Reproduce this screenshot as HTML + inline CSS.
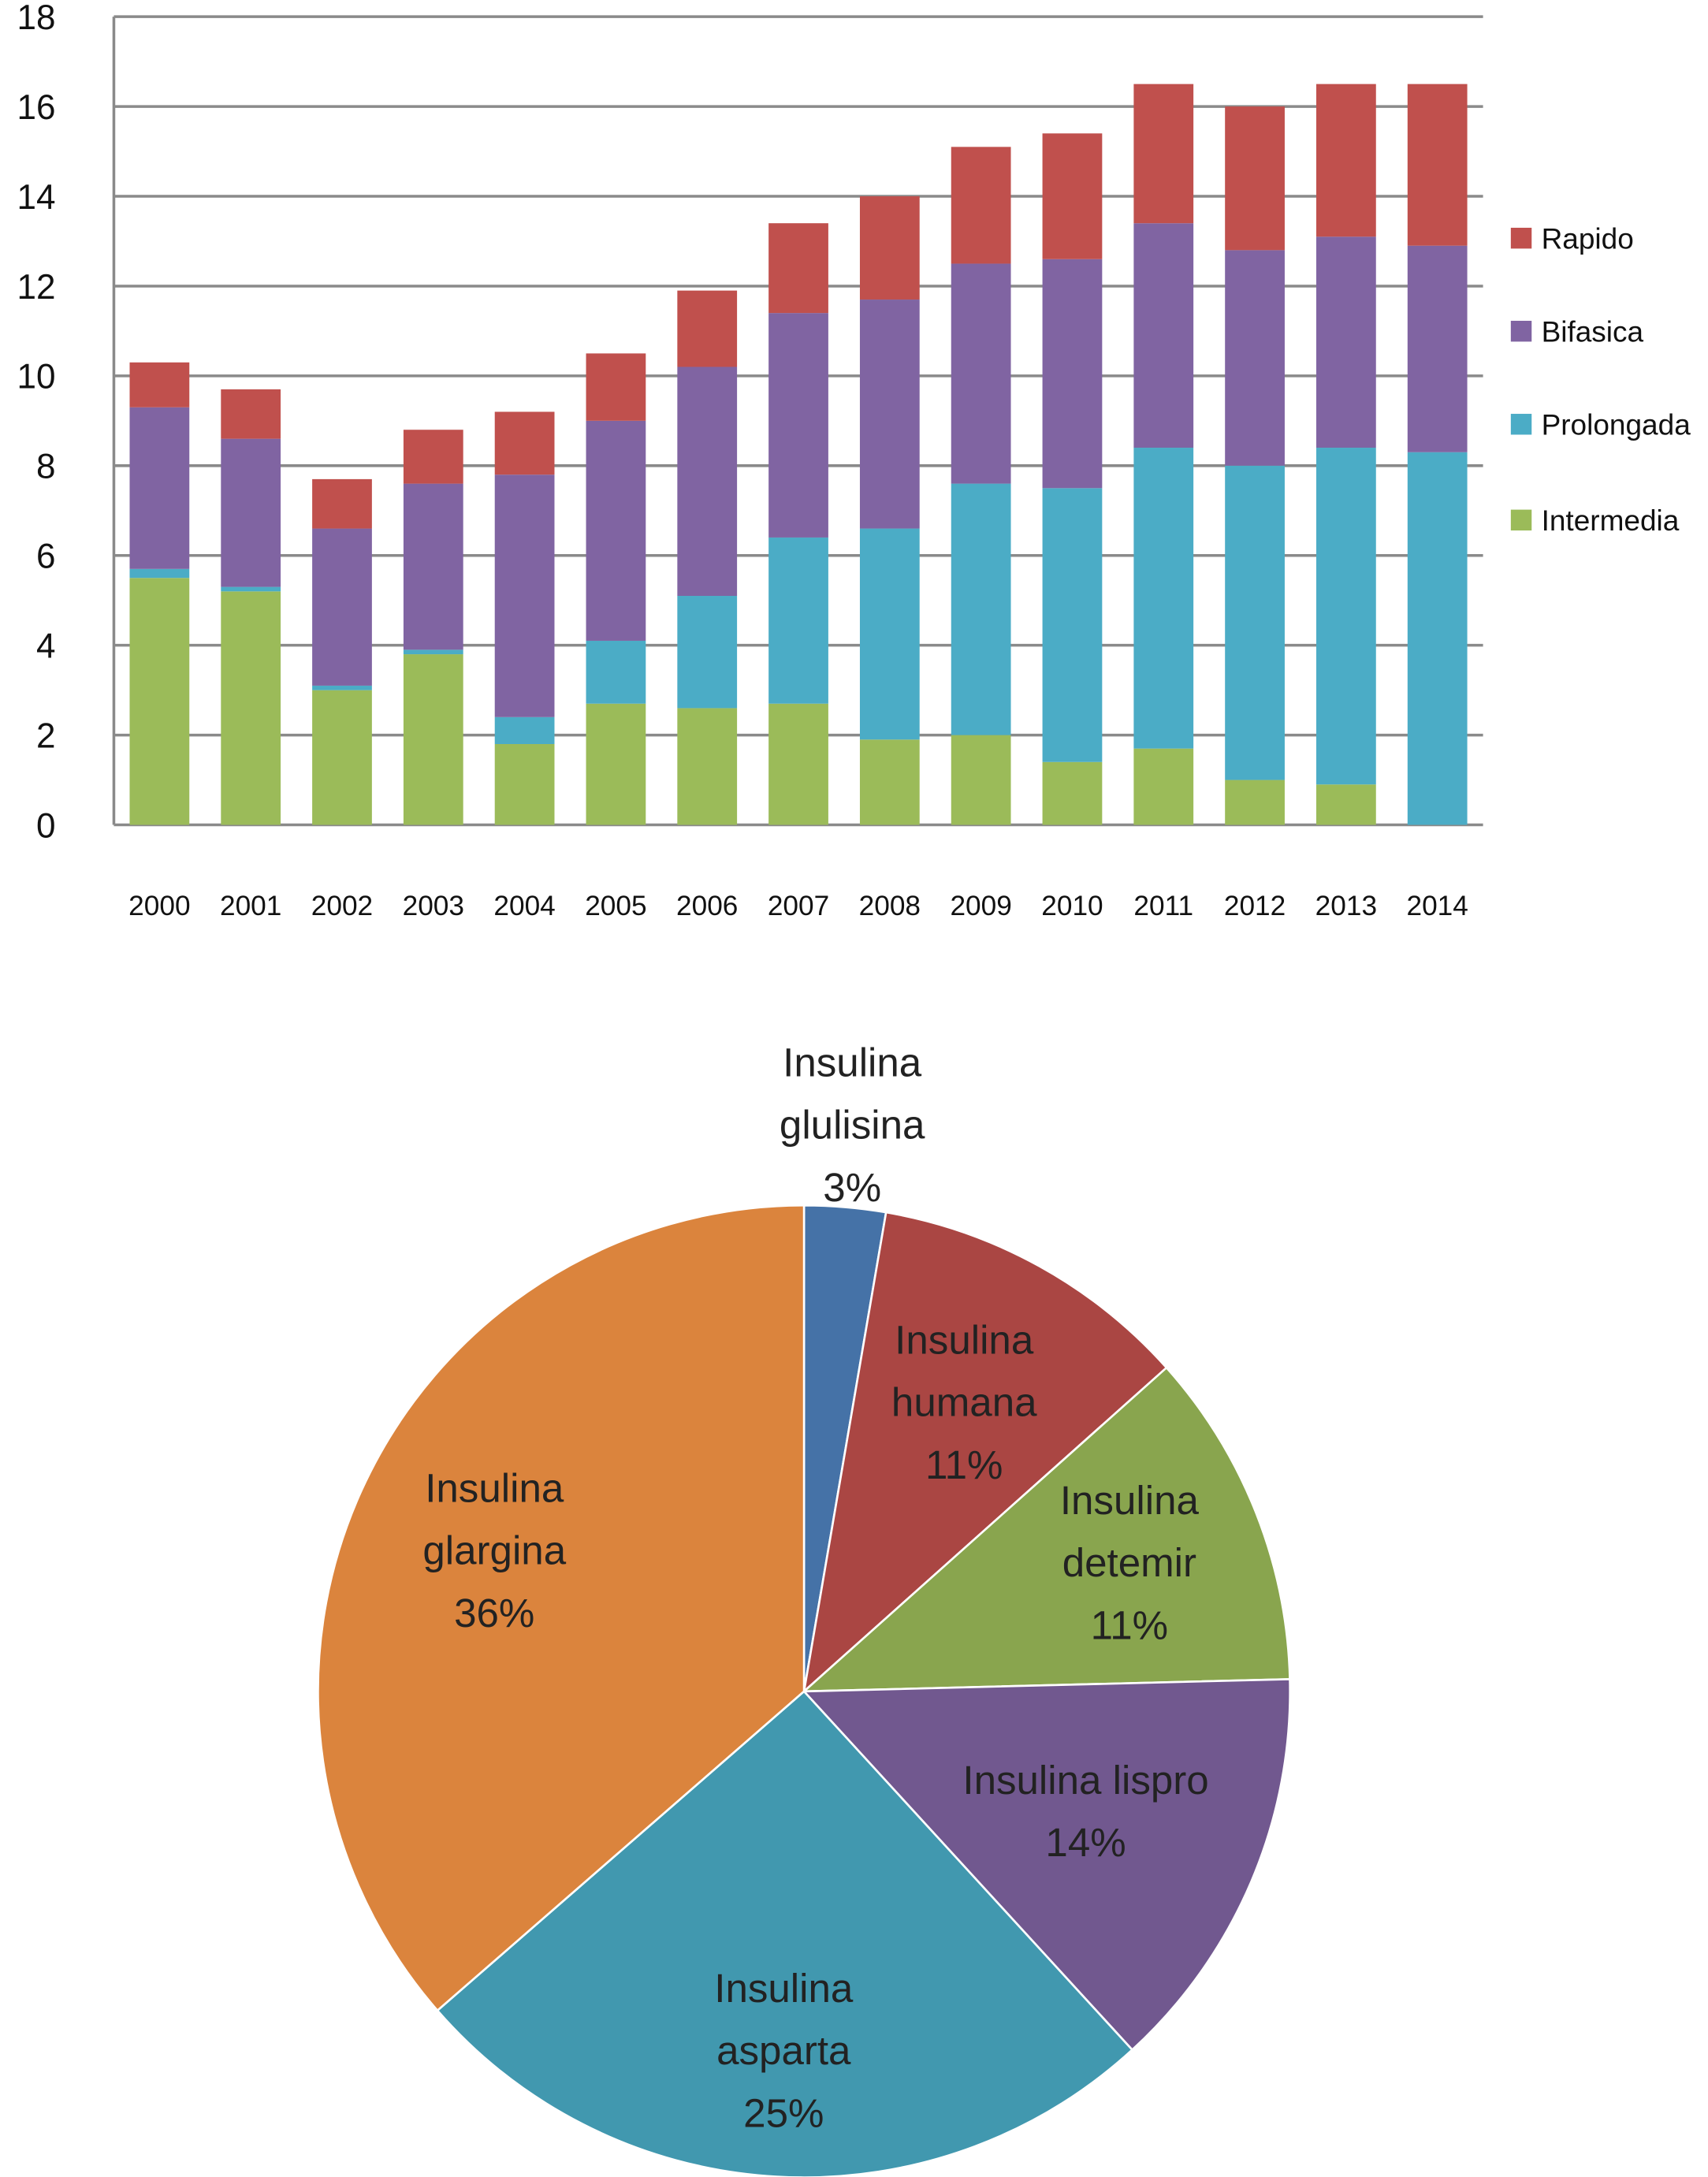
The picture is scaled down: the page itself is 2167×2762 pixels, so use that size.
<!DOCTYPE html>
<html><head><meta charset="utf-8"><style>
html,body{margin:0;padding:0;background:#fff;}
svg{display:block;font-family:"Liberation Sans","DejaVu Sans",sans-serif;}
</style></head><body>
<svg id="chart" width="2167" height="2762" viewBox="0 0 1230 1567.7" xmlns="http://www.w3.org/2000/svg"></svg>
<script>
const years=["2000","2001","2002","2003","2004","2005","2006","2007","2008","2009","2010","2011","2012","2013","2014"];
const intermedia=[5.5,5.2,3.0,3.8,1.8,2.7,2.6,2.7,1.9,2.0,1.4,1.7,1.0,0.9,0];
const prolongada=[0.2,0.1,0.1,0.1,0.6,1.4,2.5,3.7,4.7,5.6,6.1,6.7,7.0,7.5,8.3];
const bifasica=[3.6,3.3,3.5,3.7,5.4,4.9,5.1,5.0,5.1,4.9,5.1,5.0,4.8,4.7,4.6];
const rapido=[1.0,1.1,1.1,1.2,1.4,1.5,1.7,2.0,2.3,2.6,2.8,3.1,3.2,3.4,3.6];
const yTicks=[0,2,4,6,8,10,12,14,16,18];
const pieLabels=[["Insulina","glulisina","3%"],["Insulina","humana","11%"],["Insulina","detemir","11%"],["Insulina lispro","14%"],["Insulina","asparta","25%"],["Insulina","glargina","36%"]];
const pieValues=[2.7,10.7,11.2,13.6,25.4,36.4];

const NS="http://www.w3.org/2000/svg";
const svg=document.getElementById('chart');
function mk(t,a,p){const e=document.createElementNS(NS,t);for(const k in a)e.setAttribute(k,a[k]);(p||svg).appendChild(e);return e;}
const x0=82,x1=1068,yB=594,yT=12;
const ys=v=>yB-(v/18)*(yB-yT);
const step=(x1-x0)/years.length;
const xc=i=>x0+step*(i+0.5);
const bw=43;
yTicks.forEach(t=>{
  const l=mk('line',{x1:x0,x2:x1,y1:ys(t),y2:ys(t),stroke:'#8a8a8a','stroke-width':2});
  
  
  const tx=mk('text',{x:40,y:ys(t)+9,'text-anchor':'end','font-size':25,fill:'#111'});
  tx.textContent=t;
  
  
});
const ax=mk('line',{x1:x0,x2:x0,y1:yT,y2:yB,stroke:'#8a8a8a','stroke-width':2});


const series=[["intermedia",intermedia,"#9bbb59"],["prolongada",prolongada,"#4bacc6"],["bifasica",bifasica,"#8064a2"],["rapido",rapido,"#c0504d"]];
years.forEach((y,i)=>{
  let acc=0;
  series.forEach(s=>{
    const v=s[1][i];
    if(v>0){
      const r=mk('rect',{x:xc(i)-bw/2,y:ys(acc+v),width:bw,height:ys(acc)-ys(acc+v),fill:s[2]});
      
      
    }
    acc+=v;
  });
  const t=mk('text',{x:xc(i),y:659,'text-anchor':'middle','font-size':20,fill:'#111'});
  t.textContent=y;
  
  
});
const legend=[["Rapido","#c0504d"],["Bifasica","#8064a2"],["Prolongada","#4bacc6"],["Intermedia","#9bbb59"]];
const legY=[172,239,306,375];
legend.forEach((l,i)=>{
  const r=mk('rect',{x:1088,y:legY[i]-8,width:15,height:15,fill:l[1]});
  
  
  const t=mk('text',{x:1110,y:legY[i]+7,'font-size':21,fill:'#111'});
  t.textContent=l[0];
  
  
});
// pie
const cx=579,cy=1218,R=350;
const pieColors=["#4572a7","#aa4643","#89a54e","#71588f","#4198af","#db843d"];
const pieNames=["glulisina","humana","detemir","lispro","asparta","glargina"];
const total=pieValues.reduce((a,b)=>a+b,0);
let a0=0;
const labelR=[1.17,0.68,0.72,0.63,0.74,0.7];
pieValues.forEach((v,i)=>{
  const a1=a0+v/total*2*Math.PI;
  const p=(a)=>[cx+R*Math.sin(a),cy-R*Math.cos(a)];
  const [sx,sy]=p(a0),[ex,ey]=p(a1);
  const path=mk('path',{d:`M${cx},${cy}L${sx},${sy}A${R},${R} 0 ${a1-a0>Math.PI?1:0} 1 ${ex},${ey}Z`,fill:pieColors[i],stroke:'#fff','stroke-width':1.5});
  
  
  const am=(a0+a1)/2;
  const lx=cx+R*labelR[i]*Math.sin(am), ly=cy-R*labelR[i]*Math.cos(am);
  const lines=pieLabels[i];
  const t=mk('text',{x:lx,'text-anchor':'middle','font-size':29,fill:'#222'});
  lines.forEach((ln,k)=>{
    const ts=mk('tspan',{x:lx,y:ly+(k-(lines.length-1)/2)*45+10},t);
    ts.textContent=ln;
  });
  
  
  a0=a1;
});
</script>
</body></html>
